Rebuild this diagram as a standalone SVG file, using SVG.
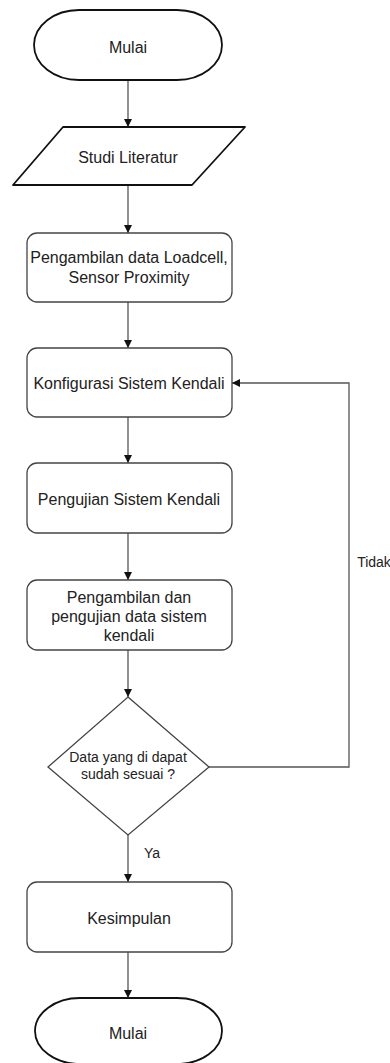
<svg xmlns="http://www.w3.org/2000/svg" width="390" height="1063" viewBox="0 0 390 1063">
<style>
.t{font-family:"Liberation Sans",Arial,sans-serif;font-size:16px;fill:#222;text-anchor:middle;dominant-baseline:central}
.s{font-size:14px}
.box{fill:#fff;stroke:#444;stroke-width:1.3}
.term{fill:#fff;stroke:#111;stroke-width:1.8}
.edge{fill:none;stroke:#555;stroke-width:1.3}
</style>
<defs>
<marker id="ah" viewBox="0 0 10 10" refX="10" refY="5" markerWidth="8" markerHeight="8" markerUnits="userSpaceOnUse" orient="auto">
<path d="M0,0 L10,5 L0,10 Z" fill="#111"/>
</marker>
</defs>
<rect width="390" height="1063" fill="#fff"/>
<g id="connectors">
<line class="edge" x1="128" y1="80" x2="128" y2="127" marker-end="url(#ah)"/>
<line class="edge" x1="128" y1="185" x2="128" y2="233" marker-end="url(#ah)"/>
<line class="edge" x1="128" y1="302" x2="128" y2="348" marker-end="url(#ah)"/>
<line class="edge" x1="128" y1="417" x2="128" y2="463" marker-end="url(#ah)"/>
<line class="edge" x1="128" y1="533" x2="128" y2="580" marker-end="url(#ah)"/>
<line class="edge" x1="128" y1="650" x2="128" y2="697" marker-end="url(#ah)"/>
<line class="edge" x1="128" y1="835" x2="128" y2="882" marker-end="url(#ah)"/>
<line class="edge" x1="128" y1="952" x2="128" y2="998" marker-end="url(#ah)"/>
<polyline class="edge" points="209,767 349,767 349,383 232,383" marker-end="url(#ah)"/>
<text class="t s" x="374" y="562">Tidak</text>
<text class="t s" x="152" y="853">Ya</text>
</g>
<g id="start">
<rect class="term" x="34" y="10" width="188" height="70" rx="45" ry="35"/>
<text class="t" x="128" y="47">Mulai</text>
</g>
<g id="studi">
<path class="term" d="M63,127 L245,127 L192,185 L13,185 Z" stroke-linejoin="round"/>
<text class="t" x="128" y="157">Studi Literatur</text>
</g>
<g id="ambil">
<rect class="box" x="27" y="233" width="205" height="69" rx="10"/>
<text class="t" x="129" y="257">Pengambilan data Loadcell,</text>
<text class="t" x="129" y="277">Sensor Proximity</text>
</g>
<g id="konfig">
<rect class="box" x="27" y="348" width="205" height="69" rx="10"/>
<text class="t" x="129" y="383">Konfigurasi Sistem Kendali</text>
</g>
<g id="uji">
<rect class="box" x="27" y="463" width="205" height="70" rx="10"/>
<text class="t" x="129" y="499">Pengujian Sistem Kendali</text>
</g>
<g id="ambiluji">
<rect class="box" x="27" y="580" width="205" height="70" rx="10"/>
<text class="t" x="129" y="597">Pengambilan dan</text>
<text class="t" x="129" y="616">pengujian data sistem</text>
<text class="t" x="129" y="635">kendali</text>
</g>
<g id="decision">
<path class="box" d="M128,697 L209,767 L128,835 L48,767 Z"/>
<text class="t s" x="128" y="757">Data yang di dapat</text>
<text class="t s" x="128" y="774">sudah sesuai ?</text>
</g>
<g id="kesimpulan">
<rect class="box" x="27" y="882" width="205" height="70" rx="10"/>
<text class="t" x="129" y="918">Kesimpulan</text>
</g>
<g id="end">
<rect class="term" x="35" y="998" width="187" height="66" rx="45" ry="33"/>
<text class="t" x="128" y="1033">Mulai</text>
</g>
</svg>
